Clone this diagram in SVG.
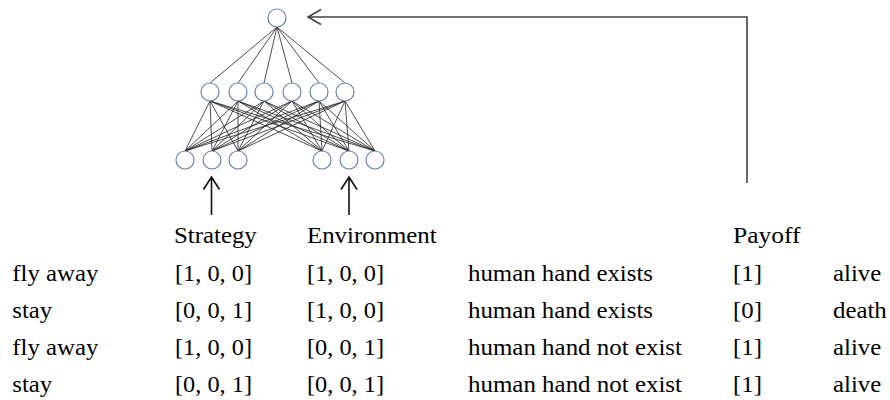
<svg xmlns="http://www.w3.org/2000/svg" width="890" height="400" viewBox="0 0 890 400">
  <defs>
    <!-- shared unit shape for every neuron -->
    <circle id="unit" cx="0" cy="0" r="9" fill="#ffffff" stroke="#6a84ad" stroke-width="1.2"/>
  </defs>

  <!-- connectors: output-to-hidden and hidden-to-input weights, input arrows, payoff feedback -->
  <g id="connectors">
    <g id="edges-out" stroke="#222222" stroke-width="0.8" fill="none">
      <line x1="277" y1="27" x2="210" y2="83"/>
      <line x1="277" y1="27" x2="238" y2="83"/>
      <line x1="277" y1="27" x2="264" y2="83"/>
      <line x1="277" y1="27" x2="292" y2="83"/>
      <line x1="277" y1="27" x2="319" y2="83"/>
      <line x1="277" y1="27" x2="345" y2="83"/>
    </g>
    <g id="edges-in" stroke="#222222" stroke-width="0.8" fill="none">
      <!-- every hidden unit connects to every input unit -->
      <line x1="210" y1="101" x2="185" y2="151"/>
      <line x1="210" y1="101" x2="212" y2="151"/>
      <line x1="210" y1="101" x2="238" y2="151"/>
      <line x1="210" y1="101" x2="322" y2="151"/>
      <line x1="210" y1="101" x2="349" y2="151"/>
      <line x1="210" y1="101" x2="375" y2="151"/>

      <line x1="238" y1="101" x2="185" y2="151"/>
      <line x1="238" y1="101" x2="212" y2="151"/>
      <line x1="238" y1="101" x2="238" y2="151"/>
      <line x1="238" y1="101" x2="322" y2="151"/>
      <line x1="238" y1="101" x2="349" y2="151"/>
      <line x1="238" y1="101" x2="375" y2="151"/>

      <line x1="264" y1="101" x2="185" y2="151"/>
      <line x1="264" y1="101" x2="212" y2="151"/>
      <line x1="264" y1="101" x2="238" y2="151"/>
      <line x1="264" y1="101" x2="322" y2="151"/>
      <line x1="264" y1="101" x2="349" y2="151"/>
      <line x1="264" y1="101" x2="375" y2="151"/>

      <line x1="292" y1="101" x2="185" y2="151"/>
      <line x1="292" y1="101" x2="212" y2="151"/>
      <line x1="292" y1="101" x2="238" y2="151"/>
      <line x1="292" y1="101" x2="322" y2="151"/>
      <line x1="292" y1="101" x2="349" y2="151"/>
      <line x1="292" y1="101" x2="375" y2="151"/>

      <line x1="319" y1="101" x2="185" y2="151"/>
      <line x1="319" y1="101" x2="212" y2="151"/>
      <line x1="319" y1="101" x2="238" y2="151"/>
      <line x1="319" y1="101" x2="322" y2="151"/>
      <line x1="319" y1="101" x2="349" y2="151"/>
      <line x1="319" y1="101" x2="375" y2="151"/>

      <line x1="345" y1="101" x2="185" y2="151"/>
      <line x1="345" y1="101" x2="212" y2="151"/>
      <line x1="345" y1="101" x2="238" y2="151"/>
      <line x1="345" y1="101" x2="322" y2="151"/>
      <line x1="345" y1="101" x2="349" y2="151"/>
      <line x1="345" y1="101" x2="375" y2="151"/>
    </g>
    <g id="input-arrows" stroke="#111111" stroke-width="1.6" fill="none">
      <path d="M211.5 215 V177 M203.5 189.5 L211.5 177 L219.5 189.5"/>
      <path d="M349 215 V177 M341 189.5 L349 177 L357 189.5"/>
    </g>
    <path id="payoff-feedback" stroke="#444444" stroke-width="1.6" fill="none" d="M747 183 V17 H308 M321 9.5 L308 17 L321 24.5"/>
  </g>

  <!-- output unit -->
  <g id="output-node"><use href="#unit" x="277" y="18"/></g>

  <!-- hidden units -->
  <g id="hidden-1"><use href="#unit" x="210" y="92"/></g>
  <g id="hidden-2"><use href="#unit" x="238" y="92"/></g>
  <g id="hidden-3"><use href="#unit" x="264" y="92"/></g>
  <g id="hidden-4"><use href="#unit" x="292" y="92"/></g>
  <g id="hidden-5"><use href="#unit" x="319" y="92"/></g>
  <g id="hidden-6"><use href="#unit" x="345" y="92"/></g>

  <!-- strategy inputs -->
  <g id="strategy-1"><use href="#unit" x="185" y="160"/></g>
  <g id="strategy-2"><use href="#unit" x="212" y="160"/></g>
  <g id="strategy-3"><use href="#unit" x="238" y="160"/></g>
  <!-- environment inputs -->
  <g id="environment-1"><use href="#unit" x="322" y="160"/></g>
  <g id="environment-2"><use href="#unit" x="349" y="160"/></g>
  <g id="environment-3"><use href="#unit" x="375" y="160"/></g>

  <!-- table of training cases; glyphs are set a little wide via textLength -->
  <g id="table" fill="#000000">
    <text font-family="Liberation Serif" font-size="23" x="174" y="243" textLength="82.8" lengthAdjust="spacingAndGlyphs">Strategy</text>
    <text font-family="Liberation Serif" font-size="23" x="307" y="243" textLength="129.7" lengthAdjust="spacingAndGlyphs">Environment</text>
    <text font-family="Liberation Serif" font-size="23" x="733" y="243" textLength="67.5" lengthAdjust="spacingAndGlyphs">Payoff</text>

    <text font-family="Liberation Serif" font-size="23" x="12.3" y="281" textLength="86.2" lengthAdjust="spacingAndGlyphs">fly away</text>
    <text font-family="Liberation Serif" font-size="23" x="175" y="281" textLength="77" lengthAdjust="spacingAndGlyphs">[1, 0, 0]</text>
    <text font-family="Liberation Serif" font-size="23" x="307" y="281" textLength="77" lengthAdjust="spacingAndGlyphs">[1, 0, 0]</text>
    <text font-family="Liberation Serif" font-size="23" x="468" y="281" textLength="185" lengthAdjust="spacingAndGlyphs">human hand exists</text>
    <text font-family="Liberation Serif" font-size="23" x="733" y="281" textLength="29" lengthAdjust="spacingAndGlyphs">[1]</text>
    <text font-family="Liberation Serif" font-size="23" x="833" y="281" textLength="48.3" lengthAdjust="spacingAndGlyphs">alive</text>

    <text font-family="Liberation Serif" font-size="23" x="12.3" y="318" textLength="40" lengthAdjust="spacingAndGlyphs">stay</text>
    <text font-family="Liberation Serif" font-size="23" x="175" y="318" textLength="77" lengthAdjust="spacingAndGlyphs">[0, 0, 1]</text>
    <text font-family="Liberation Serif" font-size="23" x="307" y="318" textLength="77" lengthAdjust="spacingAndGlyphs">[1, 0, 0]</text>
    <text font-family="Liberation Serif" font-size="23" x="468" y="318" textLength="185" lengthAdjust="spacingAndGlyphs">human hand exists</text>
    <text font-family="Liberation Serif" font-size="23" x="733" y="318" textLength="29" lengthAdjust="spacingAndGlyphs">[0]</text>
    <text font-family="Liberation Serif" font-size="23" x="833" y="318" textLength="53.8" lengthAdjust="spacingAndGlyphs">death</text>

    <text font-family="Liberation Serif" font-size="23" x="12.3" y="355" textLength="86.2" lengthAdjust="spacingAndGlyphs">fly away</text>
    <text font-family="Liberation Serif" font-size="23" x="175" y="355" textLength="77" lengthAdjust="spacingAndGlyphs">[1, 0, 0]</text>
    <text font-family="Liberation Serif" font-size="23" x="307" y="355" textLength="77" lengthAdjust="spacingAndGlyphs">[0, 0, 1]</text>
    <text font-family="Liberation Serif" font-size="23" x="468" y="355" textLength="214" lengthAdjust="spacingAndGlyphs">human hand not exist</text>
    <text font-family="Liberation Serif" font-size="23" x="733" y="355" textLength="29" lengthAdjust="spacingAndGlyphs">[1]</text>
    <text font-family="Liberation Serif" font-size="23" x="833" y="355" textLength="48.3" lengthAdjust="spacingAndGlyphs">alive</text>

    <text font-family="Liberation Serif" font-size="23" x="12.3" y="392" textLength="40" lengthAdjust="spacingAndGlyphs">stay</text>
    <text font-family="Liberation Serif" font-size="23" x="175" y="392" textLength="77" lengthAdjust="spacingAndGlyphs">[0, 0, 1]</text>
    <text font-family="Liberation Serif" font-size="23" x="307" y="392" textLength="77" lengthAdjust="spacingAndGlyphs">[0, 0, 1]</text>
    <text font-family="Liberation Serif" font-size="23" x="468" y="392" textLength="214" lengthAdjust="spacingAndGlyphs">human hand not exist</text>
    <text font-family="Liberation Serif" font-size="23" x="733" y="392" textLength="29" lengthAdjust="spacingAndGlyphs">[1]</text>
    <text font-family="Liberation Serif" font-size="23" x="833" y="392" textLength="48.3" lengthAdjust="spacingAndGlyphs">alive</text>
  </g>
</svg>
